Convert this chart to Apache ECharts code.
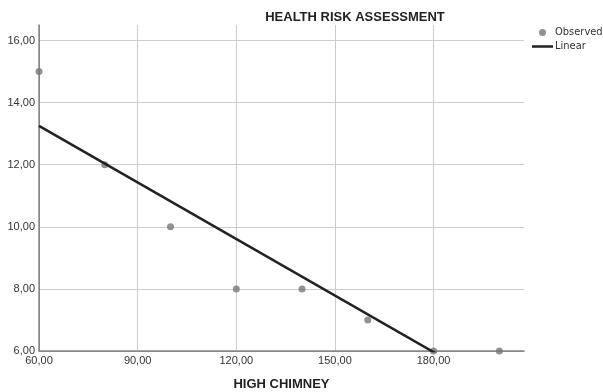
<!DOCTYPE html>
<html><head><meta charset="utf-8">
<script src="https://cdn.jsdelivr.net/npm/echarts@6/dist/echarts.min.js"></script>
<style>html,body{margin:0;padding:0;background:#fff}#c{width:603px;height:392px}</style>
</head><body><div id="c"></div>
<script>
const titleText = 'HEALTH RISK ASSESSMENT';
const xName = 'HIGH CHIMNEY';
const xValues = [60, 80, 100, 120, 140, 160, 180, 200];
const yValues = [15, 12, 10, 8, 8, 7, 6, 6];
const legendNames = ['Observed', 'Linear'];

// least-squares linear fit of the observed data
const n = xValues.length;
const mx = xValues.reduce((a, b) => a + b, 0) / n;
const my = yValues.reduce((a, b) => a + b, 0) / n;
let sxy = 0, sxx = 0;
for (let i = 0; i < n; i++) { sxy += (xValues[i] - mx) * (yValues[i] - my); sxx += (xValues[i] - mx) ** 2; }
const slope = sxy / sxx, icpt = my - slope * mx;
const xMin = 60, xMax = 207.5, yMin = 6, yMax = 16.5;
const fitLine = [[xMin, icpt + slope * xMin], [xMax, icpt + slope * xMax]];

const fmt = v => v.toFixed(2).replace('.', ',');
const chart = echarts.init(document.getElementById('c'), null, {renderer: 'canvas'});
chart.setOption({
  animation: false,
  textStyle: {fontFamily: 'Liberation Sans, Arial, sans-serif'},
  title: {text: titleText, left: 350, top: 6, textAlign: 'center',
    textStyle: {fontSize: 13, fontWeight: 'bold', color: '#222'}},
  legend: {orient: 'vertical', left: 527, top: 22, itemGap: 3, itemWidth: 21, itemHeight: 7,
    symbolKeepAspect: true,
    textStyle: {fontSize: 11, color: '#333', fontFamily: 'Liberation Sans Narrow, DejaVu Sans Condensed, sans-serif', padding: [0, 0, 0, -3]},
    data: [{name: legendNames[0], icon: 'circle'},
           {name: legendNames[1], icon: 'path://M0,0L21,0L21,2.5L0,2.5Z'}]},
  grid: {left: 39, right: 79, top: 25, bottom: 41, containLabel: false, outerBoundsMode: 'none'},
  xAxis: {type: 'value', min: xMin, max: xMax, interval: 30,
    name: xName, nameLocation: 'middle', nameGap: 27,
    nameTextStyle: {fontSize: 13, fontWeight: 'bold', color: '#222'},
    axisLine: {lineStyle: {color: '#888', width: 1.5}},
    axisTick: {show: false},
    axisLabel: {fontSize: 11, color: '#333', margin: 4, showMaxLabel: false,
      formatter: v => (v % 30 === 0 ? fmt(v) : '')},
    splitLine: {show: true, lineStyle: {color: ['#888', '#ccc', '#ccc', '#ccc', '#ccc', 'rgba(0,0,0,0)'], width: 1}}},
  yAxis: {type: 'value', min: yMin, max: yMax, interval: 2,
    axisLine: {show: true, lineStyle: {color: '#888', width: 1.5}},
    axisTick: {show: false},
    axisLabel: {fontSize: 11, color: '#333', margin: 4, showMaxLabel: false,
      formatter: v => (v % 2 === 0 ? fmt(v) : '')},
    splitLine: {show: true, lineStyle: {color: ['#888', '#ccc', '#ccc', '#ccc', '#ccc', '#ccc', 'rgba(0,0,0,0)'], width: 1}}},
  series: [
    {name: legendNames[0], type: 'scatter', symbolSize: 7, clip: false,
      itemStyle: {color: '#777'}, data: xValues.map((x, i) => [x, yValues[i]]), z: 3},
    {name: legendNames[1], type: 'line', symbol: 'none', clip: true,
      lineStyle: {color: '#222', width: 2.5}, itemStyle: {color: '#222'}, data: fitLine, z: 4}
  ]
});
</script></body></html>
